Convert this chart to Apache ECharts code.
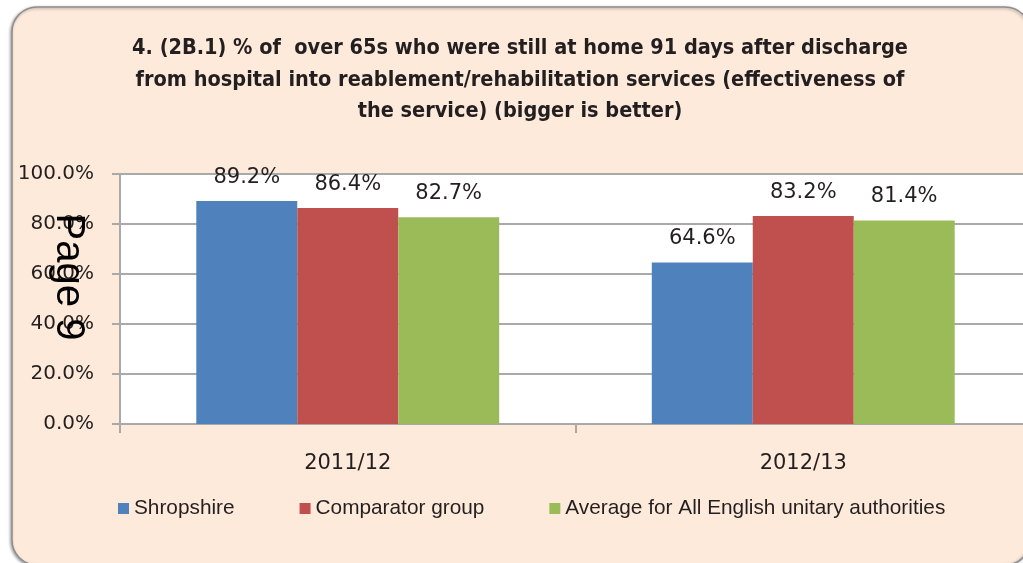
<!DOCTYPE html>
<html>
<head>
<meta charset="utf-8">
<script src="https://cdn.jsdelivr.net/npm/echarts@6/dist/echarts.min.js"></script>
<style>
  html, body { margin: 0; padding: 0; background: #fff; }
  #chart { width: 1023px; height: 563px; }
</style>
</head>
<body>
<div id="chart"></div>
<script>
// Reablement effectiveness: share of over-65s still at home 91 days after discharge
const categories = ['2011/12', '2012/13'];
const seriesNames = ['Shropshire', 'Comparator group', 'Average for All English unitary authorities'];
const shropshire = [89.2, 64.6];
const comparatorGroup = [86.4, 83.2];
const allUnitaryAverage = [82.7, 81.4];
const yTicks = [0, 20, 40, 60, 80, 100];

const colors = ['#4F81BD', '#C0504D', '#9BBB59'];
const textColor = '#231f20';
const gridGrey = '#a9a9a9';
const numFont = '"DejaVu Sans", sans-serif';
const textFont = '"Liberation Sans", Arial, sans-serif';

const chart = echarts.init(document.getElementById('chart'), null, { renderer: 'canvas' });

function barSeries(name, data, color) {
  return {
    name: name,
    type: 'bar',
    data: data,
    barGap: '0%',
    barCategoryGap: '33.5%',
    itemStyle: { color: color },
    label: {
      show: true,
      position: 'top',
      distance: 13,
      color: textColor,
      fontFamily: numFont,
      fontSize: 21,
      formatter: p => p.value.toFixed(1) + '%'
    }
  };
}

chart.setOption({
  backgroundColor: '#ffffff',
  animation: false,
  color: colors,
  title: {
    text: '4. (2B.1) % of  over 65s who were still at home 91 days after discharge\nfrom hospital into reablement/rehabilitation services (effectiveness of\nthe service) (bigger is better)',
    left: 520,
    top: 33,
    padding: 0,
    textAlign: 'center',
    textStyle: {
      fontFamily: '"Liberation Sans Narrow", "DejaVu Sans Condensed", sans-serif',
      fontWeight: 'bold',
      fontSize: 21.5,
      lineHeight: 31.5,
      color: textColor
    }
  },
  graphic: [
    {
      type: 'rect',
      z: -10,
      shape: { x: 12, y: 7, width: 1018, height: 558, r: 25 },
      style: {
        fill: '#fdeada',
        stroke: '#8e8e8e',
        lineWidth: 1.5,
        shadowBlur: 3,
        shadowColor: 'rgba(0,0,0,0.35)',
        shadowOffsetX: -1,
        shadowOffsetY: 1
      }
    },
    {
      type: 'text',
      z: 100,
      x: 68,
      y: 277,
      rotation: -Math.PI / 2,
      style: {
        text: 'Page 9',
        fill: '#000',
        font: '40px "Liberation Sans", Arial, sans-serif',
        align: 'center',
        verticalAlign: 'middle'
      }
    }
  ],
  legend: {
    data: seriesNames,
    left: 113,
    top: 493,
    itemGap: 65,
    itemWidth: 11,
    itemHeight: 11,
    icon: 'rect',
    textStyle: { fontFamily: textFont, fontSize: 20.8, color: textColor }
  },
  grid: {
    left: 120,
    top: 174,
    width: 911,
    height: 250,
    show: true,
    backgroundColor: '#ffffff',
    borderWidth: 0,
    containLabel: false,
    outerBoundsMode: 'none'
  },
  xAxis: {
    type: 'category',
    data: categories,
    axisLine: { lineStyle: { color: gridGrey, width: 2 } },
    axisTick: { show: true, length: 9, alignWithLabel: false, lineStyle: { color: gridGrey, width: 2 } },
    axisLabel: { margin: 29, color: textColor, fontFamily: numFont, fontSize: 21 }
  },
  yAxis: {
    type: 'value',
    min: yTicks[0],
    max: yTicks[yTicks.length - 1],
    interval: yTicks[1] - yTicks[0],
    axisLine: { show: true, lineStyle: { color: gridGrey, width: 2 } },
    axisTick: { show: true, length: 8, lineStyle: { color: gridGrey, width: 2 } },
    splitLine: { show: true, lineStyle: { color: gridGrey, width: 2 } },
    axisLabel: {
      margin: 26,
      color: textColor,
      fontFamily: numFont,
      fontSize: 20,
      formatter: v => v.toFixed(1) + '%'
    }
  },
  series: [
    barSeries(seriesNames[0], shropshire, colors[0]),
    barSeries(seriesNames[1], comparatorGroup, colors[1]),
    barSeries(seriesNames[2], allUnitaryAverage, colors[2])
  ]
});
</script>
</body>
</html>
